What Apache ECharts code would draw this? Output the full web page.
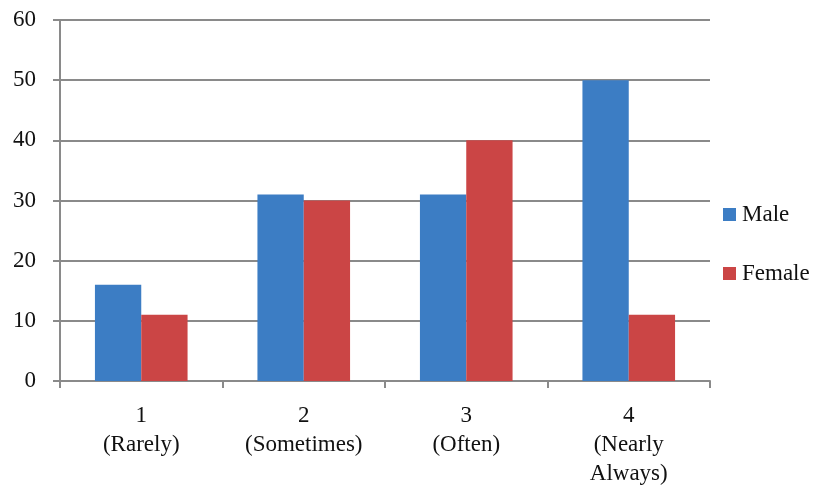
<!DOCTYPE html>
<html><head><meta charset="utf-8">
<script src="https://cdn.jsdelivr.net/npm/echarts@6/dist/echarts.min.js"></script>
<style>html,body{margin:0;padding:0;background:#fff}#c{width:821px;height:488px}</style>
</head><body><div id="c"></div>
<script>
const categories = ['1\n(Rarely)', '2\n(Sometimes)', '3\n(Often)', '4\n(Nearly\nAlways)'];
const male = [16, 31, 31, 50];
const female = [11, 30, 40, 11];
const yTicks = {min: 0, max: 60, interval: 10};

const chart = echarts.init(document.getElementById('c'));
const font = '"Liberation Serif", "Times New Roman", serif';
chart.setOption({
  animation: false,
  backgroundColor: '#fff',
  grid: {left: 60, right: 111, top: 20, bottom: 107, containLabel: false},
  legend: {
    orient: 'vertical', left: 718, top: 198,
    itemWidth: 13, itemHeight: 13, itemGap: 36,
    icon: 'rect',
    textStyle: {fontFamily: font, fontSize: 23, color: '#111', padding: [0, 0, 0, 1]},
    data: ['Male', 'Female']
  },
  xAxis: {
    type: 'category', data: categories,
    axisLine: {lineStyle: {color: '#8a8a8a', width: 2}},
    axisTick: {show: true, length: 7, lineStyle: {color: '#8a8a8a', width: 2}},
    axisLabel: {fontFamily: font, fontSize: 23, color: '#111', margin: 20, lineHeight: 29, align: 'center'}
  },
  yAxis: {
    type: 'value', min: yTicks.min, max: yTicks.max, interval: yTicks.interval,
    axisLine: {show: true, lineStyle: {color: '#8a8a8a', width: 2}},
    axisTick: {show: true, length: 7, lineStyle: {color: '#8a8a8a', width: 2}},
    splitLine: {lineStyle: {color: '#8a8a8a', width: 2}},
    axisLabel: {fontFamily: font, fontSize: 23, color: '#111', margin: 24}
  },
  series: [
    {name: 'Male', type: 'bar', data: male, itemStyle: {color: '#3C7DC4'}, barGap: '0%', barCategoryGap: '43%'},
    {name: 'Female', type: 'bar', data: female, itemStyle: {color: '#CB4545'}, barGap: '0%', barCategoryGap: '43%'}
  ]
});
</script></body></html>
